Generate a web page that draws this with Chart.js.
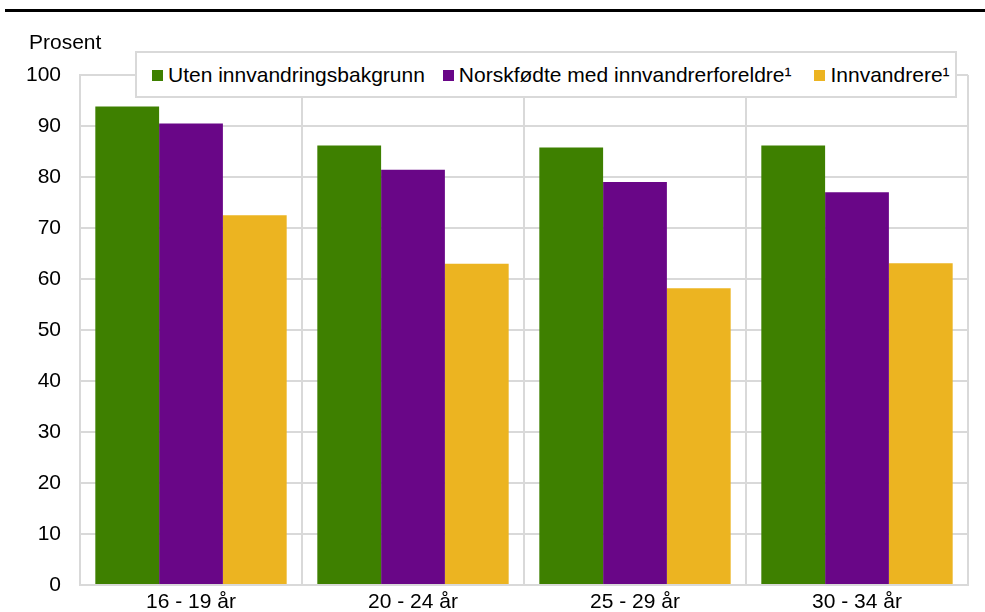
<!DOCTYPE html>
<html>
<head>
<meta charset="utf-8">
<script src="https://cdn.jsdelivr.net/npm/chart.js@4"></script>
<style>
  html, body { margin: 0; padding: 0; background: #fff; }
  #wrap { position: relative; width: 985px; height: 612px; overflow: hidden; font-family: "Liberation Sans", Arial, sans-serif; color: #000; }
  #topline { position: absolute; left: 5px; right: 0; top: 9px; height: 3px; background: #000; }
  #ylabel { position: absolute; left: 29px; top: 30px; font-size: 21px; line-height: 24px; }
  #legend { position: absolute; left: 135px; top: 51px; width: 803px; height: 43px; border: 2px solid #d9d9d9; background: #fff; display: flex; align-items: center; padding-left: 15px; box-sizing: content-box; }
  .item { display: flex; align-items: center; font-size: 21px; line-height: 24px; white-space: nowrap; }
  .sw { width: 11px; height: 11px; margin-right: 5px; margin-top: 1px; }
  canvas { position: absolute; left: 0; top: 0; }
</style>
</head>
<body>
<div id="wrap">
  <canvas id="c" width="985" height="612"></canvas>
  <div id="topline"></div>
  <div id="ylabel">Prosent</div>
  <div id="legend"></div>
</div>
<script>
const categories = ['16 - 19 år', '20 - 24 år', '25 - 29 år', '30 - 34 år'];
const seriesNames = ['Uten innvandringsbakgrunn', 'Norskfødte med innvandrerforeldre¹', 'Innvandrere¹'];
const utenInnvandringsbakgrunn = [93.8, 86.2, 85.8, 86.2];
const norskfodteMedInnvandrerforeldre = [90.5, 81.4, 79.0, 77.0];
const innvandrere = [72.5, 63.0, 58.2, 63.1];
const seriesColors = ['#3e8000', '#690687', '#ecb421'];
const yTicks = [0, 10, 20, 30, 40, 50, 60, 70, 80, 90, 100];

const seriesValues = [utenInnvandringsbakgrunn, norskfodteMedInnvandrerforeldre, innvandrere];

// HTML legend
const legend = document.getElementById('legend');
const gaps = [0, 18, 23];
seriesNames.forEach((name, i) => {
  const it = document.createElement('div');
  it.className = 'item';
  it.style.marginLeft = gaps[i] + 'px';
  const sw = document.createElement('span');
  sw.className = 'sw';
  sw.style.background = seriesColors[i];
  const tx = document.createElement('span');
  tx.textContent = name;
  it.appendChild(sw);
  it.appendChild(tx);
  legend.appendChild(it);
});

const font = { family: '"Liberation Sans", Arial, sans-serif', size: 21 };

new Chart(document.getElementById('c'), {
  type: 'bar',
  data: {
    labels: categories,
    datasets: seriesNames.map((n, i) => ({
      label: n,
      data: seriesValues[i],
      backgroundColor: seriesColors[i],
      borderWidth: 0,
      barPercentage: 1.0,
      categoryPercentage: 0.862
    }))
  },
  options: {
    responsive: false,
    animation: false,
    devicePixelRatio: 1,
    layout: { padding: { left: 0, right: 17, top: 75, bottom: 0 } },
    plugins: { legend: { display: false }, tooltip: { enabled: false }, title: { display: false } },
    scales: {
      x: {
        grid: { color: '#d9d9d9', lineWidth: 2, drawTicks: false, offset: true },
        border: { color: '#d9d9d9', width: 2 },
        ticks: { color: '#000', font: font, padding: 5, maxRotation: 0 },
        afterFit: s => { s.height = 27; }
      },
      y: {
        min: 0, max: 100,
        afterBuildTicks: s => { s.ticks = yTicks.map(v => ({ value: v })); },
        grid: { color: '#d9d9d9', lineWidth: 2, drawTicks: true, tickLength: 19, tickColor: 'rgba(0,0,0,0)' },
        border: { color: '#d9d9d9', width: 2 },
        ticks: { color: '#000', font: font, padding: 0 },
        afterFit: s => { s.width = 80; }
      }
    }
  }
});
</script>
</body>
</html>
